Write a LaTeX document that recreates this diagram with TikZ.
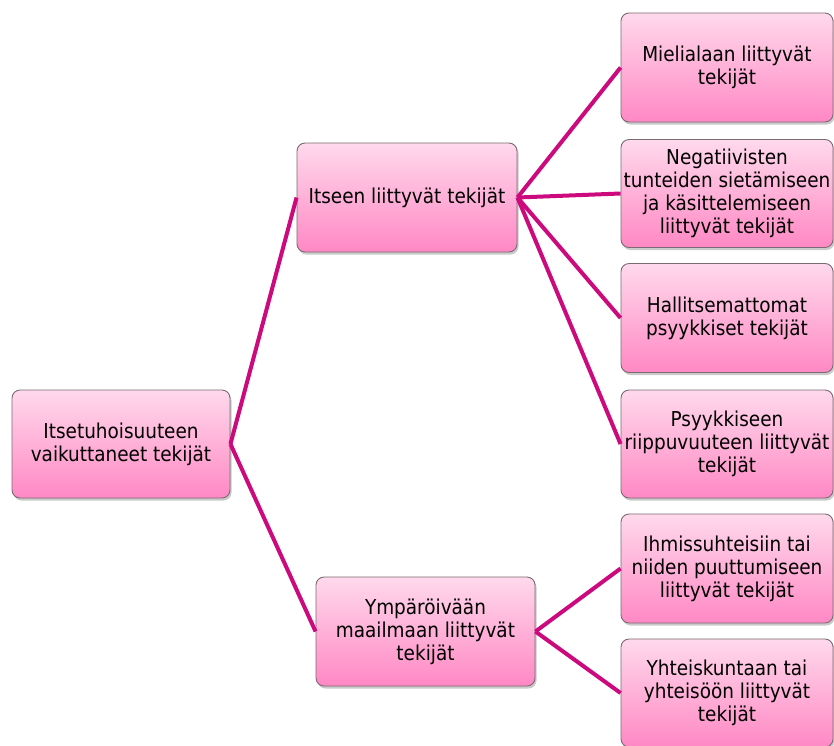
\documentclass[tikz,border=0pt]{standalone}
\usepackage{fontspec}
\setmainfont{DejaVu Sans Condensed}
\usetikzlibrary{shadows}
\definecolor{linkpink}{HTML}{CC0A7E}
\definecolor{boxtop}{HTML}{FFD9EC}
\definecolor{boxbot}{HTML}{FF88C4}
\definecolor{boxedge}{HTML}{7A6A72}
\tikzset{
  factor/.style={draw=boxedge, line width=0.9pt, rounded corners=8pt,
    top color=boxtop, bottom color=boxbot,
    drop shadow={shadow xshift=1.5pt, shadow yshift=-2.5pt, opacity=0.35, fill=black!60},
    align=center, inner sep=2pt, font=\fontsize{20.5}{23}\selectfont,
    text=black},
  link/.style={draw=linkpink, line width=4pt},
}
\begin{document}
\begin{tikzpicture}[x=1pt,y=-1pt]
\useasboundingbox (0,0) rectangle (834,745);
\begin{scope}
\clip (0,0) rectangle (834,745);
% root
\node[factor, minimum width=218pt, minimum height=108pt] (root) at (121,444)
  {Itsetuhoisuuteen\\vaikuttaneet tekijät};
% middle column
\node[factor, minimum width=220pt, minimum height=109pt] (self) at (407,197.5)
  {Itseen liittyvät tekijät};
\node[factor, minimum width=219pt, minimum height=109pt] (env) at (425.5,631.5)
  {Ympäröivään\\maailmaan liittyvät\\tekijät};
% right column
\node[factor, minimum width=212pt, minimum height=109pt] (mood) at (727,67.5)
  {Mielialaan liittyvät\\tekijät};
\node[factor, minimum width=212pt, minimum height=108pt] (neg) at (727,193.5)
  {Negatiivisten\\tunteiden sietämiseen\\ja käsittelemiseen\\liittyvät tekijät};
\node[factor, minimum width=212pt, minimum height=109pt] (psy) at (727,318)
  {Hallitsemattomat\\psyykkiset tekijät};
\node[factor, minimum width=212pt, minimum height=108pt] (dep) at (727,444)
  {Psyykkiseen\\riippuvuuteen liittyvät\\tekijät};
\node[factor, minimum width=212pt, minimum height=109pt] (rel) at (727,568.5)
  {Ihmissuhteisiin tai\\niiden puuttumiseen\\liittyvät tekijät};
\node[factor, minimum width=212pt, minimum height=108pt] (soc) at (727,693)
  {Yhteiskuntaan tai\\yhteisöön liittyvät\\tekijät};
% connectors
\draw[link] (root.east) -- (self.west);
\draw[link] (root.east) -- (env.west);
\foreach \t in {mood,neg,psy,dep} \draw[link] (self.east) -- (\t.west);
\foreach \t in {rel,soc} \draw[link] (env.east) -- (\t.west);
\end{scope}
\end{tikzpicture}
\end{document}
